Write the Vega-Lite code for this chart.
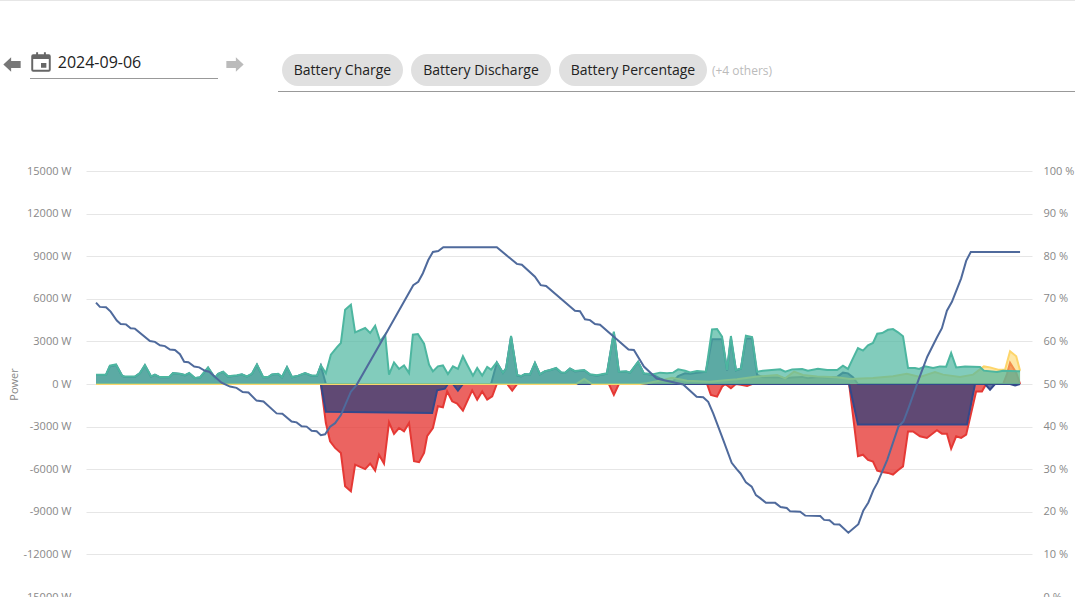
{
  "$schema": "https://vega.github.io/schema/vega-lite/v6.json",
  "padding": 0,
  "spacing": 0,
  "config": {
    "font": "Open Sans",
    "view": {"stroke": null},
    "text": {"baseline": "middle"}
  },
  "data": {"values": [{"blank": ""}]},
  "datasets": {
    "load": [
      {"hour":0.00,"load":660,"discharge":640},{"hour":0.26,"load":660,"discharge":640},{"hour":0.36,"load":1290,"discharge":1250},{"hour":0.52,"load":1380,"discharge":1340},{"hour":0.68,"load":590,"discharge":570},{"hour":0.75,"load":520,"discharge":500},{"hour":1.01,"load":520,"discharge":500},{"hour":1.14,"load":770,"discharge":750},{"hour":1.27,"load":1340,"discharge":1300},{"hour":1.43,"load":540,"discharge":520},{"hour":1.53,"load":660,"discharge":640},{"hour":1.66,"load":490,"discharge":470},{"hour":1.90,"load":490,"discharge":470},{"hour":2.00,"load":775,"discharge":750},{"hour":2.18,"load":725,"discharge":700},{"hour":2.31,"load":630,"discharge":610},{"hour":2.42,"load":775,"discharge":750},{"hour":2.57,"load":420,"discharge":400},{"hour":2.70,"load":470,"discharge":450},{"hour":2.91,"load":1170,"discharge":1140},{"hour":3.09,"load":440,"discharge":420},{"hour":3.17,"load":725,"discharge":700},{"hour":3.30,"load":870,"discharge":850},{"hour":3.43,"load":540,"discharge":520},{"hour":3.66,"load":610,"discharge":590},{"hour":3.79,"load":680,"discharge":660},{"hour":3.92,"load":540,"discharge":520},{"hour":4.05,"load":725,"discharge":700},{"hour":4.18,"load":1380,"discharge":1340},{"hour":4.34,"load":490,"discharge":470},{"hour":4.47,"load":490,"discharge":470},{"hour":4.57,"load":680,"discharge":660},{"hour":4.73,"load":725,"discharge":700},{"hour":4.83,"load":490,"discharge":470},{"hour":4.96,"load":1200,"discharge":1170},{"hour":5.09,"load":490,"discharge":470},{"hour":5.25,"load":590,"discharge":570},{"hour":5.43,"load":775,"discharge":750},{"hour":5.61,"load":590,"discharge":570},{"hour":5.74,"load":590,"discharge":570},{"hour":5.84,"load":1320,"discharge":1280},{"hour":5.97,"load":760,"discharge":0},
      {"hour":6.10,"load":2060,"discharge":0},{"hour":6.26,"load":2600,"discharge":0},{"hour":6.36,"load":2890,"discharge":0},{"hour":6.47,"load":5230,"discharge":0},{"hour":6.62,"load":5580,"discharge":0},{"hour":6.73,"load":3640,"discharge":0},{"hour":6.99,"load":3940,"discharge":0},{"hour":7.12,"load":3590,"discharge":0},{"hour":7.25,"load":4100,"discharge":0},{"hour":7.38,"load":3000,"discharge":0},{"hour":7.51,"load":3470,"discharge":0},{"hour":7.61,"load":660,"discharge":0},{"hour":7.74,"load":1520,"discharge":0},{"hour":7.87,"load":1060,"discharge":0},{"hour":8.00,"load":1310,"discharge":0},{"hour":8.13,"load":770,"discharge":0},{"hour":8.23,"load":3470,"discharge":0},{"hour":8.36,"load":3520,"discharge":0},{"hour":8.52,"load":2840,"discharge":0},{"hour":8.65,"load":1360,"discharge":0},{"hour":8.75,"load":890,"discharge":0},{"hour":8.88,"load":1240,"discharge":0},{"hour":9.01,"load":1310,"discharge":0},{"hour":9.14,"load":700,"discharge":0},{"hour":9.27,"load":1240,"discharge":0},{"hour":9.40,"load":1060,"discharge":0},{"hour":9.53,"load":1950,"discharge":0},{"hour":9.64,"load":1360,"discharge":0},{"hour":9.79,"load":590,"discharge":0},{"hour":9.90,"load":1130,"discharge":0},{"hour":10.03,"load":590,"discharge":0},{"hour":10.16,"load":1200,"discharge":0},{"hour":10.26,"load":1010,"discharge":0},
      {"hour":10.41,"load":1530,"discharge":1500},{"hour":10.57,"load":800,"discharge":780},{"hour":10.65,"load":1100,"discharge":1080},{"hour":10.78,"load":3380,"discharge":3320},{"hour":10.94,"load":630,"discharge":600},{"hour":11.04,"load":560,"discharge":540},{"hour":11.14,"load":700,"discharge":680},{"hour":11.27,"load":680,"discharge":660},{"hour":11.40,"load":1500,"discharge":1460},{"hour":11.53,"load":700,"discharge":680},{"hour":11.66,"load":910,"discharge":890},{"hour":11.79,"load":990,"discharge":970},{"hour":11.95,"load":1130,"discharge":1100},{"hour":12.08,"load":820,"discharge":800},{"hour":12.18,"load":800,"discharge":780},{"hour":12.31,"load":1100,"discharge":1080},{"hour":12.44,"load":910,"discharge":890},{"hour":12.68,"load":990,"discharge":950},{"hour":12.83,"load":680,"discharge":660},{"hour":13.01,"load":610,"discharge":590},{"hour":13.27,"load":750,"discharge":730},{"hour":13.45,"load":3680,"discharge":3620},{"hour":13.58,"load":870,"discharge":850},{"hour":13.77,"load":890,"discharge":870},{"hour":13.87,"load":800,"discharge":780},{"hour":14.08,"load":1570,"discharge":1540},{"hour":14.23,"load":750,"discharge":730},{"hour":14.47,"load":680,"discharge":640},{"hour":14.65,"load":800,"discharge":400},{"hour":14.83,"load":750,"discharge":200},{"hour":14.99,"load":800,"discharge":200},{"hour":15.12,"load":1030,"discharge":550},{"hour":15.30,"load":940,"discharge":750},{"hour":15.43,"load":820,"discharge":720},{"hour":15.61,"load":920,"discharge":800},{"hour":15.84,"load":870,"discharge":850},{"hour":16.00,"load":3850,"discharge":3150},{"hour":16.13,"load":3870,"discharge":3150},{"hour":16.26,"load":3330,"discharge":3150},{"hour":16.39,"load":990,"discharge":950},{"hour":16.49,"load":3380,"discharge":3200},{"hour":16.62,"load":990,"discharge":950},{"hour":16.75,"load":1100,"discharge":1080},{"hour":16.88,"load":3400,"discharge":3200},{"hour":17.04,"load":3310,"discharge":3200},{"hour":17.17,"load":870,"discharge":630},{"hour":17.32,"load":940,"discharge":480},{"hour":17.77,"load":1030,"discharge":450},{"hour":17.90,"load":870,"discharge":400},{"hour":18.08,"load":1030,"discharge":450},{"hour":18.34,"load":1060,"discharge":500},{"hour":18.49,"load":940,"discharge":400},{"hour":18.75,"load":1080,"discharge":500},{"hour":18.99,"load":990,"discharge":450},{"hour":19.25,"load":990,"discharge":500},{"hour":19.40,"load":1290,"discharge":800},{"hour":19.53,"load":1060,"discharge":750},{"hour":19.66,"load":1800,"discharge":480},
      {"hour":19.79,"load":2530,"discharge":0},{"hour":19.92,"load":2350,"discharge":0},{"hour":20.05,"load":2720,"discharge":0},{"hour":20.18,"load":2890,"discharge":0},{"hour":20.29,"load":3540,"discharge":0},{"hour":20.42,"load":3590,"discharge":0},{"hour":20.57,"load":3820,"discharge":0},{"hour":20.70,"load":3870,"discharge":0},{"hour":20.83,"load":3640,"discharge":0},{"hour":20.96,"load":3360,"discharge":0},{"hour":21.09,"load":1130,"discharge":0},{"hour":21.27,"load":1130,"discharge":0},{"hour":21.38,"load":1060,"discharge":0},{"hour":21.53,"load":1240,"discharge":0},{"hour":21.74,"load":1130,"discharge":0},{"hour":21.92,"load":1240,"discharge":0},{"hour":22.08,"load":1220,"discharge":0},{"hour":22.21,"load":2180,"discharge":0},{"hour":22.34,"load":1170,"discharge":0},{"hour":22.57,"load":1240,"discharge":0},{"hour":22.96,"load":1200,"discharge":0},{"hour":23.06,"load":940,"discharge":0},{"hour":23.40,"load":840,"discharge":0},{"hour":23.56,"load":940,"discharge":0},{"hour":24.00,"load":890,"discharge":0}
    ],
    "feed": [
      {"hour":0.00,"watts":0},{"hour":5.84,"watts":0},{"hour":5.97,"watts":-2750},{"hour":6.08,"watts":-4040},{"hour":6.21,"watts":-4500},{"hour":6.36,"watts":-4860},{"hour":6.47,"watts":-7200},{"hour":6.62,"watts":-7560},{"hour":6.73,"watts":-5680},{"hour":6.99,"watts":-5990},{"hour":7.12,"watts":-5600},{"hour":7.25,"watts":-6100},{"hour":7.35,"watts":-4980},{"hour":7.48,"watts":-5600},{"hour":7.61,"watts":-2700},{"hour":7.74,"watts":-3520},{"hour":7.87,"watts":-3100},{"hour":8.00,"watts":-3330},{"hour":8.13,"watts":-2750},{"hour":8.26,"watts":-5440},{"hour":8.39,"watts":-5510},{"hour":8.52,"watts":-4860},{"hour":8.60,"watts":-3680},{"hour":8.75,"watts":-3100},{"hour":8.88,"watts":-1570},{"hour":9.01,"watts":-1640},{"hour":9.12,"watts":-520},{"hour":9.25,"watts":-1220},{"hour":9.38,"watts":-1380},{"hour":9.53,"watts":-1880},{"hour":9.77,"watts":-450},{"hour":9.90,"watts":-1100},{"hour":10.03,"watts":-520},{"hour":10.16,"watts":-1100},{"hour":10.29,"watts":-870},{"hour":10.41,"watts":0},{"hour":10.68,"watts":0},{"hour":10.81,"watts":-470},{"hour":10.94,"watts":0},{"hour":13.32,"watts":0},{"hour":13.45,"watts":-770},{"hour":13.58,"watts":0},{"hour":15.87,"watts":0},{"hour":15.97,"watts":-770},{"hour":16.13,"watts":-890},{"hour":16.26,"watts":-190},{"hour":16.34,"watts":0},{"hour":16.49,"watts":-300},{"hour":16.62,"watts":0},{"hour":16.75,"watts":-50},{"hour":16.91,"watts":-140},{"hour":17.04,"watts":0},{"hour":19.56,"watts":0},{"hour":19.79,"watts":-5090},{"hour":19.92,"watts":-4980},{"hour":20.05,"watts":-5340},{"hour":20.18,"watts":-5460},{"hour":20.29,"watts":-6100},{"hour":20.42,"watts":-6200},{"hour":20.57,"watts":-6260},{"hour":20.70,"watts":-6380},{"hour":20.83,"watts":-6080},{"hour":20.96,"watts":-5800},{"hour":21.09,"watts":-3340},{"hour":21.22,"watts":-3340},{"hour":21.40,"watts":-3680},{"hour":21.58,"watts":-3800},{"hour":21.84,"watts":-3260},{"hour":21.97,"watts":-3500},{"hour":22.10,"watts":-3500},{"hour":22.21,"watts":-4560},{"hour":22.34,"watts":-3680},{"hour":22.47,"watts":-3800},{"hour":22.60,"watts":-3570},{"hour":22.86,"watts":-520},{"hour":23.01,"watts":-520},{"hour":23.12,"watts":0},{"hour":23.56,"watts":0},{"hour":23.66,"watts":700},{"hour":23.74,"watts":1500},{"hour":23.90,"watts":800},{"hour":24.00,"watts":0}
    ],
    "charge": [
      {"hour":0.00,"watts":0},{"hour":5.84,"watts":0},{"hour":5.97,"watts":-1950},{"hour":8.73,"watts":-2040},{"hour":8.86,"watts":-450},{"hour":9.06,"watts":-330},{"hour":9.14,"watts":0},{"hour":9.27,"watts":0},{"hour":9.40,"watts":-470},{"hour":9.53,"watts":0},{"hour":19.56,"watts":0},{"hour":19.79,"watts":-2860},{"hour":22.62,"watts":-2860},{"hour":22.83,"watts":0},{"hour":23.09,"watts":0},{"hour":23.22,"watts":-400},{"hour":23.35,"watts":0},{"hour":23.74,"watts":0},{"hour":23.87,"watts":-100},{"hour":24.00,"watts":0}
    ],
    "grid": [
      {"hour":0.00,"watts":0},{"hour":12.47,"watts":0},{"hour":12.68,"watts":350},{"hour":12.88,"watts":0},{"hour":14.13,"watts":0},{"hour":14.31,"watts":50},{"hour":14.73,"watts":280},{"hour":14.96,"watts":440},{"hour":15.35,"watts":230},{"hour":15.95,"watts":160},{"hour":16.21,"watts":230},{"hour":16.65,"watts":330},{"hour":17.17,"watts":520},{"hour":17.69,"watts":630},{"hour":17.90,"watts":400},{"hour":18.13,"watts":870},{"hour":18.36,"watts":630},{"hour":18.73,"watts":520},{"hour":19.25,"watts":470},{"hour":19.58,"watts":350},{"hour":20.18,"watts":420},{"hour":20.70,"watts":540},{"hour":21.06,"watts":720},{"hour":21.40,"watts":490},{"hour":21.79,"watts":840},{"hour":22.00,"watts":660},{"hour":22.44,"watts":490},{"hour":22.78,"watts":660},{"hour":23.06,"watts":1240},{"hour":23.22,"watts":1170},{"hour":23.43,"watts":1010},{"hour":23.61,"watts":1010},{"hour":23.74,"watts":2300},{"hour":23.90,"watts":1950},{"hour":24.00,"watts":940}
    ],
    "percentage": [
      {"hour":0.00,"pct":69.1},{"hour":0.10,"pct":68.1},{"hour":0.26,"pct":68.0},{"hour":0.38,"pct":67.0},{"hour":0.54,"pct":64.9},{"hour":0.64,"pct":64.1},{"hour":0.78,"pct":64.0},{"hour":0.90,"pct":63.1},{"hour":1.01,"pct":63.0},{"hour":1.40,"pct":60.1},{"hour":1.53,"pct":59.9},{"hour":1.66,"pct":59.1},{"hour":1.79,"pct":58.9},{"hour":1.92,"pct":58.1},{"hour":2.05,"pct":58.0},{"hour":2.18,"pct":57.0},{"hour":2.29,"pct":55.2},{"hour":2.40,"pct":55.1},{"hour":2.55,"pct":54.1},{"hour":2.68,"pct":53.9},{"hour":2.83,"pct":53.1},{"hour":2.94,"pct":52.9},{"hour":3.26,"pct":50.3},{"hour":3.48,"pct":49.4},{"hour":3.65,"pct":49.1},{"hour":3.81,"pct":48.1},{"hour":3.96,"pct":48.0},{"hour":4.17,"pct":46.1},{"hour":4.35,"pct":45.9},{"hour":4.69,"pct":43.1},{"hour":4.84,"pct":43.0},{"hour":5.08,"pct":41.2},{"hour":5.21,"pct":41.0},{"hour":5.34,"pct":40.1},{"hour":5.47,"pct":40.0},{"hour":5.60,"pct":39.0},{"hour":5.73,"pct":38.9},{"hour":5.84,"pct":38.0},{"hour":5.95,"pct":38.2},{"hour":6.08,"pct":40.0},{"hour":6.21,"pct":40.8},{"hour":6.36,"pct":42.7},{"hour":6.62,"pct":48.2},{"hour":6.77,"pct":49.8},{"hour":7.51,"pct":61.5},{"hour":8.24,"pct":73.2},{"hour":8.37,"pct":74.0},{"hour":8.49,"pct":76.0},{"hour":8.63,"pct":79.1},{"hour":8.75,"pct":81.0},{"hour":8.89,"pct":81.2},{"hour":9.02,"pct":82.1},{"hour":10.41,"pct":82.1},{"hour":10.93,"pct":78.2},{"hour":11.06,"pct":78.0},{"hour":11.40,"pct":75.2},{"hour":11.55,"pct":73.2},{"hour":11.69,"pct":73.0},{"hour":12.44,"pct":67.2},{"hour":12.57,"pct":67.1},{"hour":12.70,"pct":65.2},{"hour":12.83,"pct":65.0},{"hour":12.96,"pct":64.1},{"hour":13.09,"pct":63.9},{"hour":13.83,"pct":58.1},{"hour":13.97,"pct":58.0},{"hour":14.23,"pct":54.1},{"hour":14.56,"pct":51.3},{"hour":15.25,"pct":49.9},{"hour":15.60,"pct":47.0},{"hour":15.77,"pct":46.9},{"hour":15.90,"pct":45.8},{"hour":16.03,"pct":43.1},{"hour":16.29,"pct":36.9},{"hour":16.51,"pct":31.5},{"hour":16.64,"pct":30.0},{"hour":16.74,"pct":29.0},{"hour":16.88,"pct":26.9},{"hour":17.03,"pct":25.9},{"hour":17.14,"pct":23.9},{"hour":17.25,"pct":23.2},{"hour":17.40,"pct":22.1},{"hour":17.64,"pct":22.1},{"hour":17.78,"pct":21.1},{"hour":17.94,"pct":20.9},{"hour":18.03,"pct":20.1},{"hour":18.29,"pct":20.0},{"hour":18.42,"pct":19.1},{"hour":18.81,"pct":19.0},{"hour":18.91,"pct":18.1},{"hour":19.05,"pct":18.0},{"hour":19.17,"pct":17.1},{"hour":19.31,"pct":17.0},{"hour":19.54,"pct":15.1},{"hour":19.80,"pct":17.1},{"hour":19.93,"pct":20.3},{"hour":20.06,"pct":22.2},{"hour":20.19,"pct":25.1},{"hour":20.30,"pct":26.9},{"hour":20.55,"pct":32.2},{"hour":20.84,"pct":40.0},{"hour":20.97,"pct":41.2},{"hour":21.10,"pct":44.3},{"hour":21.36,"pct":50.9},{"hour":21.59,"pct":56.4},{"hour":21.84,"pct":60.9},{"hour":21.97,"pct":63.1},{"hour":22.10,"pct":67.2},{"hour":22.23,"pct":69.3},{"hour":22.47,"pct":74.8},{"hour":22.60,"pct":78.9},{"hour":22.72,"pct":81.0},{"hour":24.00,"pct":81.0}
    ]
  },
  "vconcat": [
    {"width": 1075, "height": 1, "view": {"fill": "#e6e6e6"}, "mark": {"type": "text", "text": "", "fontSize": 0}},
    {
      "spacing": 0,
      "hconcat": [
        {"width": 24, "height": 127, "mark": {"type": "point", "filled": true, "opacity": 1, "size": 300, "color": "#777777", "shape": "M-1,0 L-0.1,-0.85 L-0.1,-0.4 L1,-0.4 L1,0.4 L-0.1,0.4 L-0.1,0.85 Z"}},
        {"width": 6, "height": 1, "mark": {"type": "text", "text": "", "fontSize": 0}},
        {
          "spacing": 0,
          "vconcat": [
            {"width": 188, "height": 45, "mark": {"type": "text", "text": "", "fontSize": 0}},
            {
              "spacing": 0,
              "hconcat": [
                {"width": 22, "height": 32, "mark": {"type": "point", "filled": true, "opacity": 1, "size": 380, "color": "#666666", "shape": "M-0.8,-0.8 L-0.5,-0.8 L-0.5,-1 L-0.3,-1 L-0.3,-0.8 L0.3,-0.8 L0.3,-1 L0.5,-1 L0.5,-0.8 L0.8,-0.8 Q1,-0.8 1,-0.6 L1,0.8 Q1,1 0.8,1 L-0.8,1 Q-1,1 -1,0.8 L-1,-0.6 Q-1,-0.8 -0.8,-0.8 Z M-0.8,-0.3 L-0.8,0.8 L0.8,0.8 L0.8,-0.3 Z M0,0.1 L0.55,0.1 L0.55,0.6 L0,0.6 Z"}},
                {"width": 95, "height": 32, "data": {"values": [{"date": "2024-09-06"}]}, "mark": {"type": "text", "fontSize": 16, "color": "#222222", "dy": 1}, "encoding": {"text": {"field": "date", "type": "nominal"}}},
                {"width": 71, "height": 1, "mark": {"type": "text", "text": "", "fontSize": 0}}
              ]
            },
            {"width": 188, "height": 1, "view": {"fill": "#999999"}, "mark": {"type": "text", "text": "", "fontSize": 0}}
          ]
        },
        {"width": 34, "height": 127, "mark": {"type": "point", "filled": true, "opacity": 1, "size": 300, "color": "#bbbbbb", "shape": "M1,0 L0.1,-0.85 L0.1,-0.4 L-1,-0.4 L-1,0.4 L0.1,0.4 L0.1,0.85 Z"}},
        {"width": 26, "height": 1, "mark": {"type": "text", "text": "", "fontSize": 0}},
        {
          "spacing": 0,
          "vconcat": [
            {"width": 797, "height": 53, "mark": {"type": "text", "text": "", "fontSize": 0}},
            {
              "spacing": 0,
              "hconcat": [
                {"width": 4, "height": 1, "mark": {"type": "text", "text": "", "fontSize": 0}},
                {"width": 121, "height": 32, "view": {"fill": "#e0e0e0", "cornerRadius": 16}, "data": {"values": [{"chip": "Battery Charge"}]}, "mark": {"type": "text", "fontSize": 14, "color": "#222222", "dy": 1}, "encoding": {"text": {"field": "chip", "type": "nominal"}}},
                {"width": 8, "height": 1, "mark": {"type": "text", "text": "", "fontSize": 0}},
                {"width": 140, "height": 32, "view": {"fill": "#e0e0e0", "cornerRadius": 16}, "data": {"values": [{"chip": "Battery Discharge"}]}, "mark": {"type": "text", "fontSize": 14, "color": "#222222", "dy": 1}, "encoding": {"text": {"field": "chip", "type": "nominal"}}},
                {"width": 8, "height": 1, "mark": {"type": "text", "text": "", "fontSize": 0}},
                {"width": 148, "height": 32, "view": {"fill": "#e0e0e0", "cornerRadius": 16}, "data": {"values": [{"chip": "Battery Percentage"}]}, "mark": {"type": "text", "fontSize": 14, "color": "#222222", "dy": 1}, "encoding": {"text": {"field": "chip", "type": "nominal"}}},
                {"width": 70, "height": 32, "data": {"values": [{"more": "(+4 others)"}]}, "mark": {"type": "text", "fontSize": 12, "color": "#bbbbbb", "dy": 1}, "encoding": {"text": {"field": "more", "type": "nominal"}}},
                {"width": 298, "height": 1, "mark": {"type": "text", "text": "", "fontSize": 0}}
              ]
            },
            {"width": 797, "height": 5, "mark": {"type": "text", "text": "", "fontSize": 0}},
            {"width": 797, "height": 1, "view": {"fill": "#999999"}, "mark": {"type": "text", "text": "", "fontSize": 0}},
            {"width": 797, "height": 73, "mark": {"type": "text", "text": "", "fontSize": 0}}
          ]
        }
      ]
    },
    {
      "spacing": 0,
      "bounds": "flush",
      "hconcat": [
        {"width": 86, "height": 426, "mark": {"type": "text", "text": "", "fontSize": 0}},
        {
          "width": 946,
          "height": 426,
          "resolve": {"scale": {"y": "independent"}},
          "encoding": {
            "x": {"field": "hour", "type": "quantitative", "axis": null, "scale": {"domain": [-0.26, 24.31], "nice": false, "zero": false}}
          },
          "layer": [
            {
              "layer": [
                {
                  "data": {"name": "feed"},
                  "mark": {"type": "area", "color": "#e53935", "fillOpacity": 0.78, "line": {"color": "#e53935", "strokeWidth": 2}},
                  "encoding": {
                    "y": {
                      "field": "watts",
                      "type": "quantitative",
                      "scale": {"domain": [-15000, 15000], "nice": false},
                      "axis": {
                        "title": "Power",
                        "titleColor": "#888888",
                        "titleFontSize": 11,
                        "titleFontWeight": "normal",
                        "titlePadding": 3,
                        "values": [-15000, -12000, -9000, -6000, -3000, 0, 3000, 6000, 9000, 12000, 15000],
                        "labelExpr": "datum.value + ' W'",
                        "labelColor": "#888888",
                        "labelFontSize": 11,
                        "labelPadding": 15,
                        "domain": false,
                        "ticks": false,
                        "grid": true,
                        "gridColor": "#e6e6e6"
                      }
                    }
                  }
                },
                {
                  "data": {"name": "charge"},
                  "mark": {"type": "area", "color": "#2a3f7c", "fillOpacity": 0.72, "line": {"color": "#34488a", "strokeWidth": 2}},
                  "encoding": {"y": {"field": "watts", "type": "quantitative"}}
                },
                {
                  "data": {"name": "load"},
                  "mark": {"type": "area", "color": "#2a3f7c", "fillOpacity": 0.6, "line": {"color": "#34488a", "strokeWidth": 2}},
                  "encoding": {"y": {"field": "discharge", "type": "quantitative"}}
                },
                {
                  "data": {"name": "grid"},
                  "mark": {"type": "area", "color": "#fdd35c", "fillOpacity": 0.55, "line": {"color": "#fdd56a", "strokeWidth": 2}},
                  "encoding": {"y": {"field": "watts", "type": "quantitative"}}
                },
                {
                  "data": {"name": "load"},
                  "mark": {"type": "area", "color": "#4db6a0", "fillOpacity": 0.7, "line": {"color": "#4db6a0", "strokeWidth": 2}},
                  "encoding": {"y": {"field": "load", "type": "quantitative"}}
                }
              ]
            },
            {
              "data": {"name": "percentage"},
              "mark": {"type": "line", "color": "#4f6a9c", "strokeWidth": 2},
              "encoding": {
                "y": {
                  "field": "pct",
                  "type": "quantitative",
                  "scale": {"domain": [0, 100], "nice": false},
                  "axis": {
                    "orient": "right",
                    "title": null,
                    "values": [0, 10, 20, 30, 40, 50, 60, 70, 80, 90, 100],
                    "labelExpr": "datum.value + ' %'",
                    "labelColor": "#888888",
                    "labelFontSize": 11,
                    "labelPadding": 11,
                    "domain": false,
                    "ticks": false,
                    "grid": false
                  }
                }
              }
            }
          ]
        }
      ]
    }
  ]
}
